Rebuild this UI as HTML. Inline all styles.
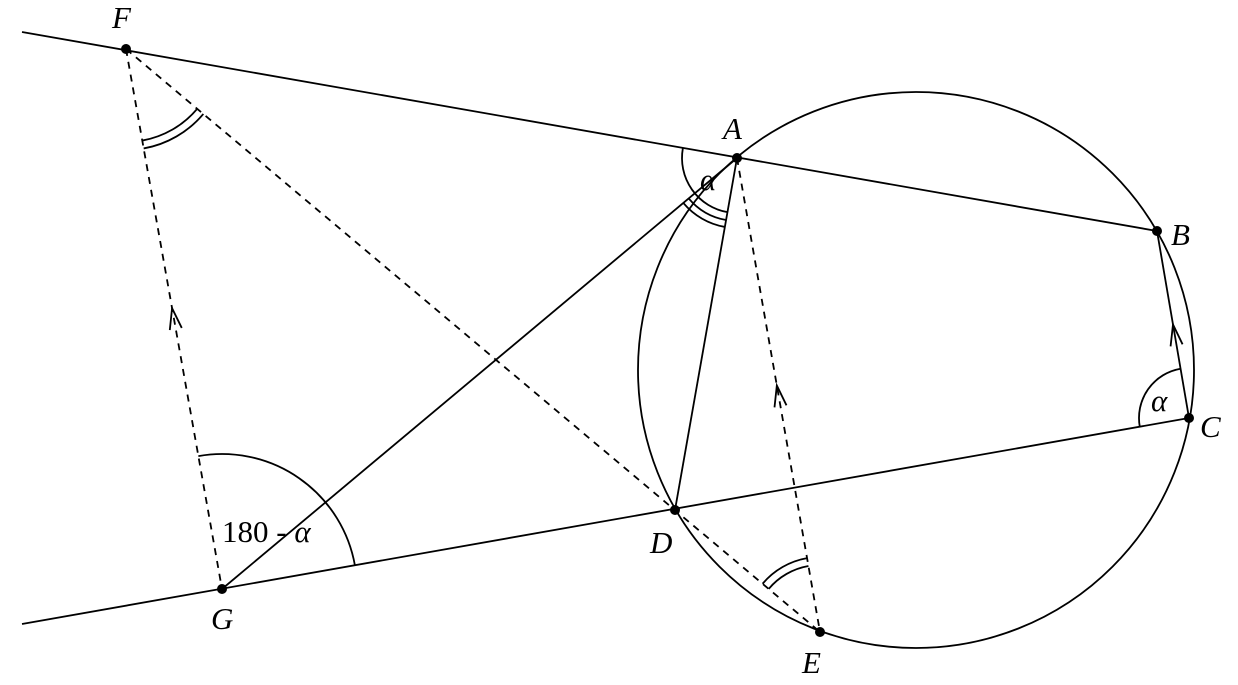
<!DOCTYPE html>
<html><head><meta charset="utf-8"><style>
html,body{margin:0;padding:0;background:#fff;}
svg{display:block;}
text{font-family:"Liberation Serif",serif;font-style:italic;font-size:31px;fill:#000;}
</style></head><body>
<svg id="s" width="1238" height="685" viewBox="0 0 1238 685" xmlns="http://www.w3.org/2000/svg">
<g stroke="#000" stroke-width="1.8" fill="none">
<line x1="22" y1="32" x2="1157" y2="231"/>
<line x1="22" y1="624" x2="1189" y2="418"/>
<circle cx="916" cy="370" r="278"/>
<line x1="222" y1="589" x2="737" y2="158"/>
<line x1="737" y1="158" x2="675" y2="510"/>
<line x1="1157" y1="231" x2="1189" y2="418"/>
<g stroke-dasharray="7,6">
<line x1="126" y1="49" x2="222" y2="589"/>
<line x1="126" y1="49" x2="820" y2="632"/>
<line x1="737" y1="158" x2="820" y2="632"/>
</g>
<g id="arcs"></g>
</g>
<g fill="#000">
<circle cx="126" cy="49" r="5"/><circle cx="737" cy="158" r="5"/>
<circle cx="1157" cy="231" r="5"/><circle cx="1189" cy="418" r="5"/>
<circle cx="675" cy="510" r="5"/><circle cx="820" cy="632" r="5"/>
<circle cx="222" cy="589" r="5"/>
</g>
<text x="112" y="28">F</text>
<text x="723" y="139">A</text>
<text x="1171" y="245">B</text>
<text x="1200" y="437">C</text>
<text x="650" y="553">D</text>
<text x="802" y="673">E</text>
<text x="211" y="629">G</text>
<text x="700" y="190">α</text>
<text x="1151" y="411">α</text>
<text x="222" y="542" style="font-style:normal">180 - <tspan style="font-style:italic">α</tspan></text>
</svg>
<script>
var g=document.getElementById('arcs');
function ang(p,q){return Math.atan2(q[1]-p[1],q[0]-p[0]);}
function arc(c,p1,p2,r){
 var a1=ang(c,p1),a2=ang(c,p2);
 var d=a2-a1; while(d<=-Math.PI)d+=2*Math.PI; while(d>Math.PI)d-=2*Math.PI;
 var x1=c[0]+r*Math.cos(a1),y1=c[1]+r*Math.sin(a1),x2=c[0]+r*Math.cos(a2),y2=c[1]+r*Math.sin(a2);
 var el=document.createElementNS('http://www.w3.org/2000/svg','path');
 el.setAttribute('d','M'+x1+' '+y1+' A'+r+' '+r+' 0 0 '+(d>0?1:0)+' '+x2+' '+y2);
 g.appendChild(el);
}
function chev(p,q,t){
 var a=ang(p,q),x=p[0]+(q[0]-p[0])*t,y=p[1]+(q[1]-p[1])*t,L=22,w=0.28;
 var el=document.createElementNS('http://www.w3.org/2000/svg','path');
 el.setAttribute('d','M'+(x-L*Math.cos(a-w))+' '+(y-L*Math.sin(a-w))+' L'+x+' '+y+' L'+(x-L*Math.cos(a+w))+' '+(y-L*Math.sin(a+w)));
 g.appendChild(el);
}
var F=[126,49],A=[737,158],B=[1157,231],C=[1189,418],D=[675,510],E=[820,632],G=[222,589],L1=[22,32];
arc(F,G,D,93);arc(F,G,D,101);
arc(A,L1,D,55);
arc(A,G,D,63);arc(A,G,D,70);
arc(G,F,C,135);
arc(C,D,B,50);
arc(E,F,A,67);arc(E,F,A,75);
chev(G,F,0.52);chev(E,A,0.52);chev(C,B,0.5);
</script>
</body></html>
